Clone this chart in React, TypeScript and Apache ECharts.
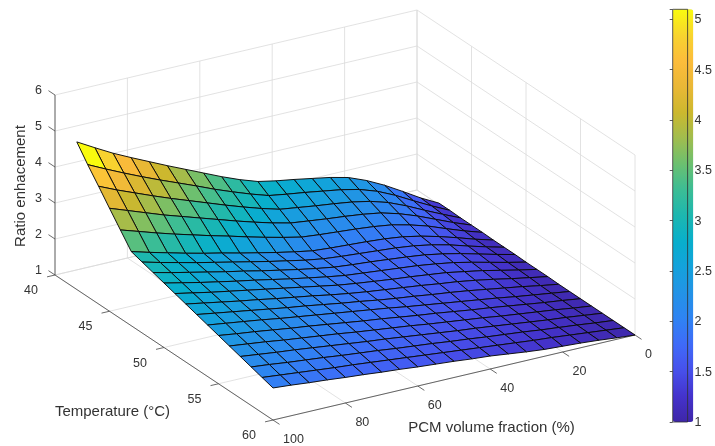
import React, { useEffect, useRef } from "react";
import * as echarts from "echarts";

// ---------- data ----------
const pcmValues = [0, 5, 10, 15, 20, 25, 30, 35, 40, 45, 50, 55, 60, 65, 70, 75, 80, 85, 90, 95, 100];
const tempValues = [42, 43, 44, 45, 46, 47, 48, 49, 50, 51, 52, 53, 54, 55, 56, 57, 58, 59, 60];

const ratioT42 = [1.04, 1.30, 1.60, 1.89, 2.14, 2.34, 2.46, 2.55, 2.64, 2.72, 2.82, 2.99, 3.19, 3.41, 3.63, 3.85, 4.08, 4.31, 4.55, 4.82, 5.10];
const ratioT43 = [1.04, 1.28, 1.54, 1.81, 2.04, 2.21, 2.32, 2.40, 2.48, 2.55, 2.63, 2.79, 2.97, 3.16, 3.37, 3.57, 3.77, 3.98, 4.20, 4.43, 4.67];
const ratioT44 = [1.03, 1.25, 1.48, 1.72, 1.93, 2.08, 2.18, 2.25, 2.31, 2.38, 2.45, 2.59, 2.75, 2.92, 3.10, 3.28, 3.46, 3.65, 3.85, 4.05, 4.27];
const ratioT45 = [1.03, 1.22, 1.43, 1.64, 1.82, 1.96, 2.04, 2.10, 2.15, 2.21, 2.27, 2.39, 2.53, 2.68, 2.84, 3.00, 3.16, 3.32, 3.50, 3.68, 3.86];
const ratioT46 = [1.03, 1.19, 1.37, 1.56, 1.71, 1.83, 1.90, 1.95, 1.99, 2.03, 2.08, 2.19, 2.31, 2.44, 2.58, 2.71, 2.85, 2.99, 3.14, 3.30, 3.46];
const ratioT47 = [1.02, 1.16, 1.32, 1.47, 1.60, 1.70, 1.76, 1.80, 1.83, 1.86, 1.90, 1.99, 2.09, 2.20, 2.31, 2.43, 2.54, 2.66, 2.79, 2.92, 3.06];
const ratioT48 = [1.02, 1.15, 1.29, 1.44, 1.56, 1.65, 1.71, 1.75, 1.79, 1.83, 1.88, 1.96, 2.06, 2.16, 2.27, 2.38, 2.49, 2.60, 2.72, 2.84, 2.97];
const ratioT49 = [1.02, 1.14, 1.27, 1.40, 1.51, 1.60, 1.66, 1.71, 1.76, 1.80, 1.85, 1.93, 2.02, 2.12, 2.22, 2.33, 2.43, 2.54, 2.65, 2.76, 2.88];
const ratioT50 = [1.01, 1.12, 1.24, 1.36, 1.47, 1.55, 1.62, 1.67, 1.72, 1.77, 1.82, 1.90, 1.99, 2.08, 2.18, 2.28, 2.37, 2.47, 2.57, 2.68, 2.79];
const ratioT51 = [1.01, 1.11, 1.22, 1.33, 1.42, 1.51, 1.57, 1.63, 1.68, 1.74, 1.80, 1.87, 1.96, 2.05, 2.14, 2.23, 2.32, 2.41, 2.50, 2.60, 2.70];
const ratioT52 = [1.01, 1.10, 1.19, 1.29, 1.38, 1.46, 1.52, 1.59, 1.65, 1.71, 1.77, 1.84, 1.92, 2.01, 2.09, 2.17, 2.26, 2.34, 2.43, 2.52, 2.61];
const ratioT53 = [1.00, 1.08, 1.17, 1.25, 1.33, 1.41, 1.48, 1.54, 1.61, 1.67, 1.74, 1.82, 1.89, 1.97, 2.05, 2.12, 2.20, 2.28, 2.36, 2.44, 2.52];
const ratioT54 = [1.00, 1.07, 1.14, 1.21, 1.29, 1.36, 1.43, 1.50, 1.57, 1.64, 1.72, 1.79, 1.86, 1.93, 2.00, 2.07, 2.14, 2.22, 2.29, 2.36, 2.43];
const ratioT55 = [1.00, 1.07, 1.13, 1.20, 1.27, 1.34, 1.40, 1.47, 1.54, 1.60, 1.67, 1.74, 1.80, 1.87, 1.94, 2.01, 2.07, 2.14, 2.21, 2.27, 2.34];
const ratioT56 = [1.00, 1.06, 1.13, 1.19, 1.25, 1.31, 1.38, 1.44, 1.50, 1.56, 1.63, 1.69, 1.75, 1.81, 1.88, 1.94, 2.00, 2.06, 2.13, 2.19, 2.25];
const ratioT57 = [1.00, 1.06, 1.12, 1.17, 1.23, 1.29, 1.35, 1.41, 1.46, 1.52, 1.58, 1.64, 1.70, 1.75, 1.81, 1.87, 1.93, 1.99, 2.04, 2.10, 2.16];
const ratioT58 = [1.00, 1.05, 1.11, 1.16, 1.21, 1.27, 1.32, 1.37, 1.43, 1.48, 1.54, 1.59, 1.64, 1.70, 1.75, 1.80, 1.86, 1.91, 1.96, 2.02, 2.07];
const ratioT59 = [1.00, 1.05, 1.10, 1.15, 1.20, 1.24, 1.29, 1.34, 1.39, 1.44, 1.49, 1.54, 1.59, 1.64, 1.69, 1.74, 1.78, 1.83, 1.88, 1.93, 1.98];
const ratioT60 = [1.00, 1.04, 1.09, 1.13, 1.16, 1.19, 1.24, 1.30, 1.36, 1.40, 1.45, 1.49, 1.53, 1.58, 1.62, 1.67, 1.71, 1.76, 1.80, 1.85, 1.89];

const ratioGrid = [
  ratioT42, ratioT43, ratioT44, ratioT45, ratioT46, ratioT47, ratioT48, ratioT49, ratioT50, ratioT51,
  ratioT52, ratioT53, ratioT54, ratioT55, ratioT56, ratioT57, ratioT58, ratioT59, ratioT60,
];

const pcmTicks = [0, 20, 40, 60, 80, 100];
const tempTicks = [40, 45, 50, 55, 60];
const ratioTicks = [1, 2, 3, 4, 5, 6];
const colorMin = 1;
const colorMax = 5.1;

const pcmRange = [0, 100];
const tempRange = [40, 60];
const ratioRange = [1, 6];

const parula = [
  "#3E26A8", "#4433CC", "#4750EC", "#3F6AF8", "#2F83F3", "#2393E6", "#14A2DC", "#08AFCC",
  "#1CB7B0", "#3BBD95", "#6BC070", "#A0BD4E", "#CCB82E", "#EAB836", "#FCBC3B", "#F8D42E", "#F9FB0E",
];

// ---------- projection (orthographic view of the 3D box) ----------
const ORIGIN = [417, 190]; // pcm = 0, T = 40, ratio = 1
const P_VEC = [-3.62, 0.85]; // per % PCM
const T_VEC = [10.9, 7.25]; // per °C
const Z_VEC = [0, -36]; // per unit ratio

function proj(p: number, t: number, z: number): number[] {
  const dt = t - tempRange[0];
  const dz = z - ratioRange[0];
  return [
    ORIGIN[0] + P_VEC[0] * p + T_VEC[0] * dt + Z_VEC[0] * dz,
    ORIGIN[1] + P_VEC[1] * p + T_VEC[1] * dt + Z_VEC[1] * dz,
  ];
}

const FONT = "'Liberation Sans', Arial, Helvetica, sans-serif";
const TEXT = "#333333";

export default function App() {
  const ref = useRef<HTMLDivElement>(null);

  useEffect(() => {
    if (!ref.current) return;
    const chart = echarts.init(ref.current, null, { renderer: "svg" });

    const [pMin, pMax] = pcmRange;
    const [tMin, tMax] = tempRange;
    const [zMin, zMax] = ratioRange;

    // background grid lines (floor + two back walls)
    const gridSegs: number[][] = [];
    pcmTicks.forEach((p) => gridSegs.push([p, tMin, zMin, p, tMax, zMin]));
    tempTicks.forEach((t) => gridSegs.push([pMin, t, zMin, pMax, t, zMin]));
    pcmTicks.forEach((p) => gridSegs.push([p, tMin, zMin, p, tMin, zMax]));
    ratioTicks.forEach((z) => gridSegs.push([pMin, tMin, z, pMax, tMin, z]));
    tempTicks.forEach((t) => gridSegs.push([pMin, t, zMin, pMin, t, zMax]));
    ratioTicks.forEach((z) => gridSegs.push([pMin, tMin, z, pMin, tMax, z]));

    // axis lines and ticks
    const axisSegs: number[][] = [];
    axisSegs.push([pMax, tMin, zMin, pMax, tMin, zMax]);
    axisSegs.push([pMax, tMin, zMin, pMax, tMax, zMin]);
    axisSegs.push([pMax, tMax, zMin, pMin, tMax, zMin]);
    ratioTicks.forEach((z) => axisSegs.push([pMax, tMin, z, pMax, tMin - 0.6, z]));
    tempTicks.forEach((t) => axisSegs.push([pMax, t, zMin, pMax + 2.2, t, zMin]));
    pcmTicks.forEach((p) => axisSegs.push([p, tMax, zMin, p, tMax + 0.6, zMin]));

    // surface cells, sorted back to front
    const cells: number[][] = [];
    for (let j = 0; j < tempValues.length - 1; j++) {
      for (let i = 0; i < pcmValues.length - 1; i++) {
        cells.push([i, j, ratioGrid[j][i + 1]]);
      }
    }
    const depth = (c: number[]) => {
      const p = (pcmValues[c[0]] + pcmValues[c[0] + 1]) / 2;
      const t = (tempValues[c[1]] + tempValues[c[1] + 1]) / 2;
      return P_VEC[1] * p + T_VEC[1] * (t - tMin);
    };
    cells.sort((a, b) => depth(a) - depth(b));

    const segSeries = (data: number[][], color: string, width: number) => ({
      type: "custom",
      coordinateSystem: "cartesian2d",
      xAxisIndex: 0,
      yAxisIndex: 0,
      silent: true,
      data,
      renderItem: (_params: any, api: any) => {
        const a = api.coord(proj(api.value(0), api.value(1), api.value(2)));
        const b = api.coord(proj(api.value(3), api.value(4), api.value(5)));
        return {
          type: "line",
          shape: { x1: a[0], y1: a[1], x2: b[0], y2: b[1] },
          style: { stroke: color, lineWidth: width },
        };
      },
    });

    const labelSeries = (
      data: number[][],
      dx: number,
      dy: number,
      align: string
    ) => ({
      type: "custom",
      coordinateSystem: "cartesian2d",
      xAxisIndex: 0,
      yAxisIndex: 0,
      silent: true,
      data,
      renderItem: (_params: any, api: any) => {
        const pt = api.coord(proj(api.value(0), api.value(1), api.value(2)));
        return {
          type: "text",
          x: pt[0] + dx,
          y: pt[1] + dy,
          style: {
            text: String(api.value(3)),
            fill: TEXT,
            fontSize: 12.5,
            fontFamily: FONT,
            align,
            verticalAlign: "middle",
          },
        };
      },
    });

    const surfaceSeries = {
      type: "custom",
      coordinateSystem: "cartesian2d",
      xAxisIndex: 0,
      yAxisIndex: 0,
      silent: true,
      data: cells,
      renderItem: (_params: any, api: any) => {
        const i = api.value(0);
        const j = api.value(1);
        const corners = [
          [i, j],
          [i + 1, j],
          [i + 1, j + 1],
          [i, j + 1],
        ].map(([a, b]) => api.coord(proj(pcmValues[a], tempValues[b], ratioGrid[b][a])));
        return {
          type: "polygon",
          shape: { points: corners },
          style: { fill: api.visual("color"), stroke: "#0a0a0a", lineWidth: 0.95, lineJoin: "round" },
        };
      },
    };

    const option: any = {
      animation: false,
      grid: [
        { left: 0, top: 0, right: 0, bottom: 0, show: false },
        {
          left: 672.7,
          top: 9.3,
          width: 20.6,
          height: 412.7,
          show: true,
          z: 10,
          backgroundColor: "transparent",
          borderColor: "#303030",
          borderWidth: 0.8,
        },
      ],
      xAxis: [
        { type: "value", gridIndex: 0, min: 0, max: 715, show: false },
        { type: "value", gridIndex: 1, min: 0, max: 1, show: false },
      ],
      yAxis: [
        { type: "value", gridIndex: 0, min: 0, max: 446, inverse: true, show: false },
        {
          type: "value",
          gridIndex: 1,
          position: "right",
          min: colorMin,
          max: colorMax,
          interval: 0.5,
          z: 10,
          axisLine: { show: false },
          splitLine: { show: false },
          axisTick: { show: true, inside: true, length: 3, lineStyle: { color: "#303030", width: 0.8 } },
          axisLabel: {
            margin: 7,
            fontSize: 12.5,
            fontFamily: FONT,
            color: TEXT,
            formatter: (v: number) =>
              Math.abs(v * 2 - Math.round(v * 2)) < 1e-6 ? String(v) : "",
          },
        },
      ],
      visualMap: {
        type: "continuous",
        min: colorMin,
        max: colorMax,
        dimension: 2,
        seriesIndex: 2,
        calculable: false,
        orient: "vertical",
        left: 672.7,
        top: 9.3,
        itemWidth: 20.6,
        itemHeight: 412.7,
        padding: 0,
        inRange: { color: parula },
      },
      graphic: [
        {
          type: "text",
          x: 19.5,
          y: 186,
          rotation: Math.PI / 2,
          silent: true,
          style: {
            text: "Ratio enhacement",
            fill: TEXT,
            fontSize: 15,
            fontFamily: FONT,
            align: "center",
            verticalAlign: "middle",
          },
        },
        {
          type: "text",
          x: 112.5,
          y: 410.5,
          silent: true,
          style: {
            text: "Temperature (°C)",
            fill: TEXT,
            fontSize: 15,
            fontFamily: FONT,
            align: "center",
            verticalAlign: "middle",
          },
        },
        {
          type: "text",
          x: 491.5,
          y: 426,
          silent: true,
          style: {
            text: "PCM volume fraction (%)",
            fill: TEXT,
            fontSize: 15,
            fontFamily: FONT,
            align: "center",
            verticalAlign: "middle",
          },
        },
      ],
      series: [
        segSeries(gridSegs, "#dadada", 0.8),
        segSeries(axisSegs, "#444444", 0.8),
        surfaceSeries,
        labelSeries(ratioTicks.map((z) => [pMax, tMin, z, z]), -13, -5.5, "right"),
        labelSeries(tempTicks.map((t) => [pMax, t, zMin, t]), -24, 15, "center"),
        labelSeries(pcmTicks.map((p) => [p, tMax, zMin, p]), 10, 18.5, "left"),
      ],
    };

    chart.setOption(option);
    return () => chart.dispose();
  }, []);

  return (
    <div
      ref={ref}
      style={{ position: "fixed", left: 0, top: 0, width: 715, height: 446 }}
    />
  );
}
